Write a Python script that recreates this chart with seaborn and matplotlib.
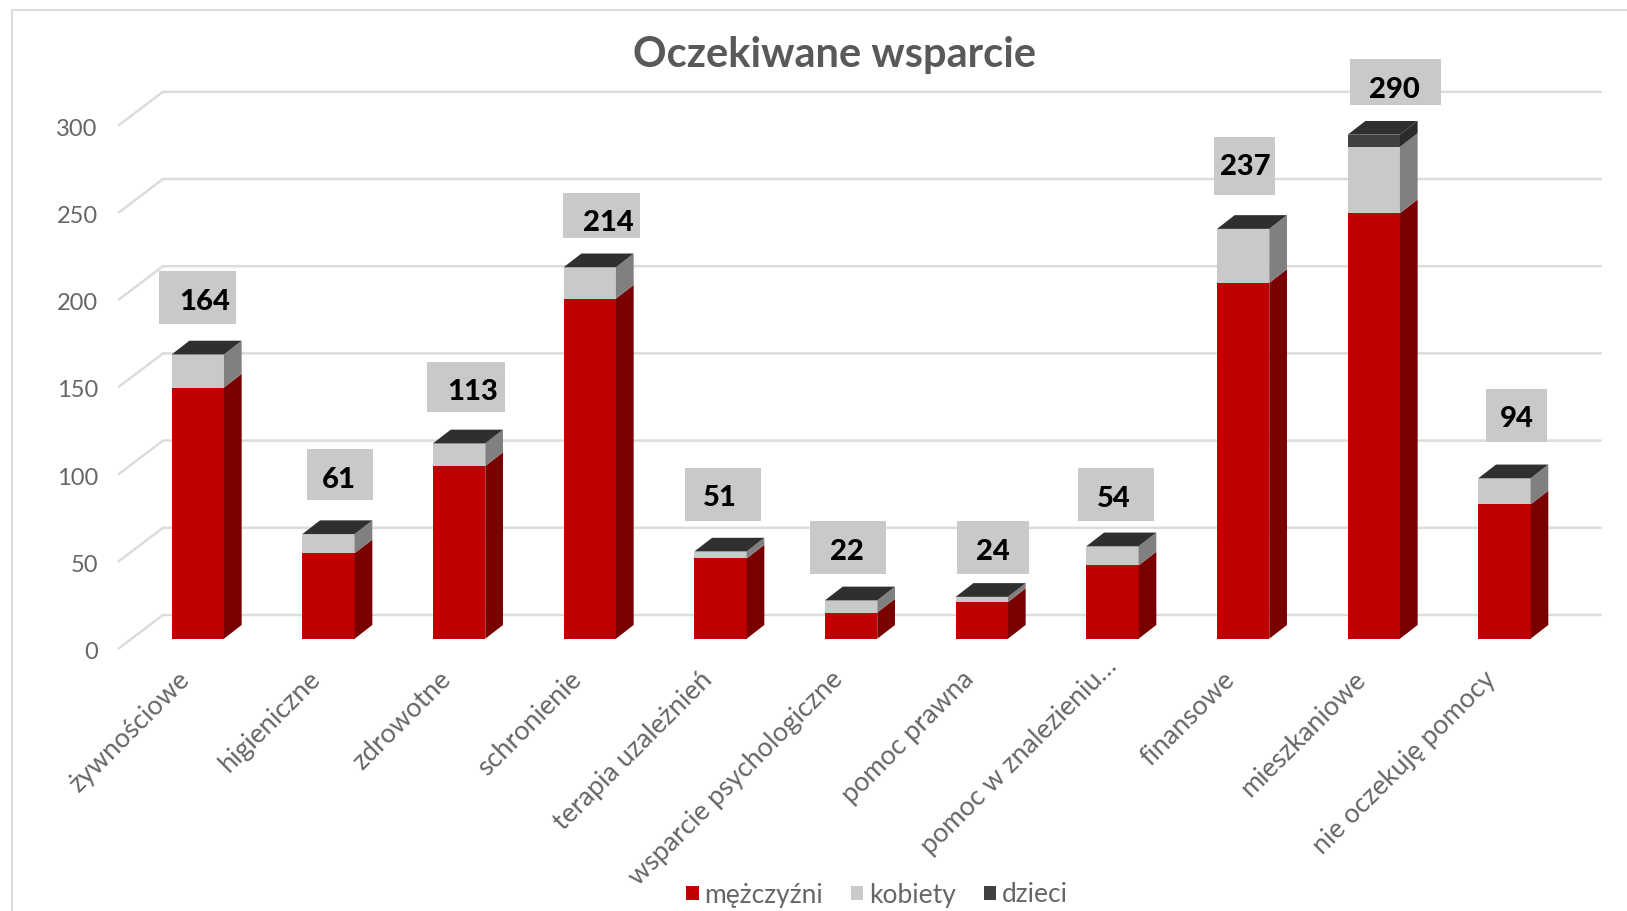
import matplotlib
matplotlib.use('Agg')
import matplotlib.pyplot as plt
from matplotlib.lines import Line2D
from matplotlib.patches import Polygon, Rectangle
from matplotlib.transforms import ScaledTranslation
import seaborn as sns

categories = ['żywnościowe', 'higieniczne', 'zdrowotne', 'schronienie', 'terapia uzależnień',
              'wsparcie psychologiczne', 'pomoc prawna', 'pomoc w znalezieniu…', 'finansowe',
              'mieszkaniowe', 'nie oczekuję pomocy']
mezczyzni = [144, 49, 99, 195, 46, 15, 21, 42, 204, 244, 77]
kobiety = [19, 11, 13, 18, 4, 7, 3, 11, 31, 38, 15]
dzieci = [0, 0, 0, 0, 0, 0, 0, 0, 0, 7, 0]
totals = [164, 61, 113, 214, 51, 22, 24, 54, 237, 290, 94]
yticks = [0, 50, 100, 150, 200, 250, 300]

# value boxes, in pixels from the top centre of each bar: left, width, gap, height, text dx, text dy
label_layout = [(-39, 76.7, 29, 53, 5.6, 52.7), (-21.5, 66.5, 32.2, 50.8, 9.5, 55.3),
                (-32.6, 78.8, 29.6, 50, 12.9, 52.6), (-26.4, 76.8, 27.9, 44.6, 17.2, 44.5),
                (-35.7, 75.8, 28.9, 52.9, -1.5, 53.8), (-41.2, 76, 26.3, 53, -5.6, 51.3),
                (-24.8, 72, 22.8, 53, 10.2, 47.8), (-34.5, 76, 23.5, 53, 0.5, 48.5),
                (-29.2, 61, 30.4, 58, 0.8, 60.4), (-23.8, 91, 27.9, 46, 19.7, 45.9),
                (-18.5, 61, 32.8, 53, 11.5, 57.8)]

W, H = 1627, 911
LEFT, RIGHT = 132.5, 1569.8
ZERO_Y, TOP_Y = 638.7, 115.5
sx = (RIGHT - LEFT) / 11
sy = (ZERO_Y - TOP_Y) / 300

RED, RED_SIDE = '#c00000', '#7a0000'
GREY, GREY_SIDE = '#c9c9c9', '#808080'
DARK, DARK_SIDE = '#404040', '#2a2a2a'
TOP_FACE = '#2f2f2f'
GRID = '#dcdcdc'
TEXT = '#595959'
LIGHT_TEXT = '#666666'

sns.set_theme(style='white')
plt.rcParams['font.family'] = ['Lato', 'DejaVu Sans']

fig = plt.figure(figsize=(W / 100, H / 100), dpi=100)
ax = fig.add_axes([LEFT / W, 1 - ZERO_Y / H, (RIGHT - LEFT) / W, (ZERO_Y - TOP_Y) / H])

# stacked front faces
bar_kws = dict(saturation=1, width=0.4, ax=ax, zorder=3, linewidth=0, edgecolor='none')
base = list(mezczyzni)
sns.barplot(x=categories, y=mezczyzni, color=RED, label='mężczyźni', **bar_kws)
sns.barplot(x=categories, y=kobiety, bottom=base, color=GREY, label='kobiety', **bar_kws)
base = [m + k for m, k in zip(mezczyzni, kobiety)]
sns.barplot(x=categories, y=dzieci, bottom=base, color=DARK, label='dzieci', **bar_kws)
tops = [b + d for b, d in zip(base, dzieci)]

ax.set_xlim(-0.5, 10.5)
ax.set_ylim(0, 300)
sns.despine(ax=ax, left=True, bottom=True)
ax.patch.set_alpha(0)

# depth of the bars
ddx, ddy = 17.7 / sx, 13.7 / sy
sides = [RED_SIDE] * 11 + [GREY_SIDE] * 11 + [DARK_SIDE] * 11
for bar, side in zip(ax.patches, sides):
    x1 = bar.get_x() + bar.get_width()
    y0, h = bar.get_y(), bar.get_height()
    if h > 0:
        ax.add_patch(Polygon([(x1, y0), (x1 + ddx, y0 + ddy), (x1 + ddx, y0 + h + ddy), (x1, y0 + h)],
                             facecolor=side, edgecolor='none', zorder=3, clip_on=False))
for i, top in enumerate(tops):
    x0, x1 = i - 0.2, i + 0.2
    ax.add_patch(Polygon([(x0, top), (x1, top), (x1 + ddx, top + ddy), (x0 + ddx, top + ddy)],
                         facecolor=TOP_FACE, edgecolor='none', zorder=3, clip_on=False))

# floor and back wall lines
gx0 = (118 - LEFT) / sx - 0.5
gx1 = (163 - LEFT) / sx - 0.5
gx2 = (1601.7 - LEFT) / sx - 0.5
for v in yticks:
    ax.plot([gx0, gx1, gx2], [v - 10.3 / sy, v + 23.7 / sy, v + 23.7 / sy], color=GRID, lw=1.8,
            zorder=1, clip_on=False, solid_capstyle='butt')

# value boxes
for i, total in enumerate(totals):
    left, width, gap, height, tdx, tdy = label_layout[i]
    ax.add_patch(Rectangle((i + left / sx, total + gap / sy), width / sx, height / sy,
                           facecolor=GREY, edgecolor='none', zorder=4, clip_on=False))
    ax.text(i + (tdx + 1) / sx, total + (tdy - 2.5) / sy, str(total), ha='center', va='center',
            fontsize=21, fontweight='black', color='black', zorder=5)

# axes text
ax.set_yticks(yticks)
ax.tick_params(axis='y', length=0, pad=25, labelsize=17, labelcolor=LIGHT_TEXT)
ax.tick_params(axis='x', length=0, pad=0, labelsize=19.4, labelcolor=LIGHT_TEXT)
shift_y = ScaledTranslation(0, -11.8 / 100, fig.dpi_scale_trans)
for lbl in ax.get_yticklabels():
    lbl.set_transform(lbl.get_transform() + shift_y)
for lbl, name in zip(ax.get_xticklabels(), categories):
    # the truncated label sits further along its slant in the reference
    extra = 13 if name.endswith('…') else 0
    shift_x = ScaledTranslation((-21 + extra) / 100, (-28 + extra) / 100, fig.dpi_scale_trans)
    lbl.set_rotation(45)
    lbl.set_ha('right')
    lbl.set_va('top')
    lbl.set_rotation_mode('anchor')
    lbl.set_transform(lbl.get_transform() + shift_x)

fig.text(835 / W, 1 - 55 / H, 'Oczekiwane wsparcie', ha='center', va='center', fontsize=30,
         fontweight='bold', color=TEXT)

leg = ax.legend(loc='center', bbox_to_anchor=(877 / W, 1 - 895 / H), bbox_transform=fig.transFigure, ncols=3,
                frameon=False, fontsize=19, handlelength=0.48, handleheight=0.48, handletextpad=0.21,
                columnspacing=1.05, labelcolor=LIGHT_TEXT)

# chart frame
fig.add_artist(Line2D([11.5 / W, 11.5 / W, 1], [0, 1 - 10 / H, 1 - 10 / H], color=GRID, lw=1.5,
                      transform=fig.transFigure))

fig.savefig('out.png', dpi=100, facecolor='white')
